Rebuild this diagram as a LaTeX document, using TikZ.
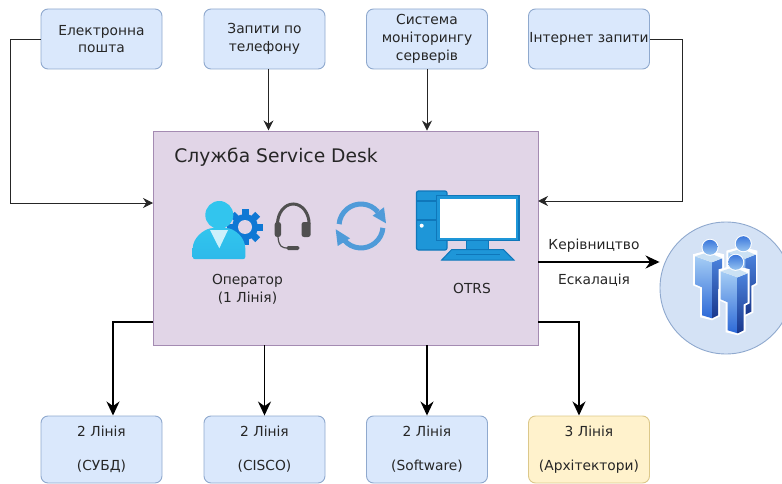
\documentclass[tikz,border=0pt]{standalone}
\usepackage{fontspec}
\setmainfont{DejaVu Sans}
\usetikzlibrary{arrows.meta}

\definecolor{boxblue}{HTML}{DAE8FC}
\definecolor{boxedge}{HTML}{8FA9CE}
\definecolor{boxyellow}{HTML}{FFF2CC}
\definecolor{yellowedge}{HTML}{DCC88A}
\definecolor{boxlilac}{HTML}{E1D5E7}
\definecolor{lilacedge}{HTML}{A48BB2}
\definecolor{inktext}{HTML}{262626}
\definecolor{gearblue}{HTML}{0F78D4}
\definecolor{headcyan}{HTML}{32C5EE}
\definecolor{refreshblue}{HTML}{4F9BD9}
\definecolor{pcfill}{HTML}{1E96D8}
\definecolor{pcedge}{HTML}{0F77BA}
\definecolor{teamfill}{HTML}{D4E2F5}
\definecolor{headsetgrey}{HTML}{505050}

\newcommand{\linetext}[2]{\raisebox{-3pt}{#1}\\[16pt]\raisebox{-3pt}{#2}}

\tikzset{
  figure/.pic={
    \fill[white] (-17,5) -- (-2,1) -- (14,5) -- (14,39) -- (10,41) -- (10,67) -- (2,71) -- (-10,68) -- (-10,39) -- (-17,36) -- cycle;
    \shade[top color={rgb,255:red,165;green,205;blue,245}, bottom color={rgb,255:red,45;green,105;blue,215}] (-15,7) -- (2,13) -- (2,69) -- (-8,66) -- (-8,38) -- (-15,35) -- cycle;
    \shade[top color={rgb,255:red,75;green,130;blue,220}, bottom color={rgb,255:red,25;green,55;blue,140}] (2,13) -- (12,9) -- (12,38) -- (8,40) -- (8,66) -- (2,69) -- cycle;
    \fill[white!70!refreshblue] (-15,7) -- (-2,3) -- (12,9) -- (2,13) -- cycle;
    \fill[white] (0,-2) circle (8.5pt);
    \shade[top color={rgb,255:red,60;green,120;blue,220}, bottom color={rgb,255:red,150;green,195;blue,240}] (0,-2) circle (7.5pt);
  }
}

\begin{document}
\begin{tikzpicture}
  [x=1pt, y=-1pt,
    every node/.style={text=inktext, font=\fontsize{13.8}{17.8}\selectfont, align=center},
    inbox/.style={draw=boxedge, fill=boxblue, rounded corners=7pt, line width=0.9pt, minimum width=121pt, minimum height=60pt, inner sep=0pt},
    linebox/.style={inbox, minimum height=67pt},
    thin arrow/.style={draw=black!85, line width=0.9pt, -{Stealth[length=10pt, width=10pt]}},
    thick arrow/.style={draw=black, line width=1.8pt, -{Stealth[length=14pt, width=13pt]}},
  ]
  \useasboundingbox (0,0) rectangle (782,484);

  \node[inbox] (mail) at (101.5,39) {Електронна\\пошта};
  \node[inbox] (phone) at (264.5,39) {Запити по\\телефону};
  \node[inbox] (monitor) at (427,39) {Система\\моніторингу\\серверів};
  \node[inbox] (web) at (589,39) {Інтернет запити};

  \node[draw=lilacedge, fill=boxlilac, line width=0.9pt, minimum width=385pt, minimum height=214pt, inner sep=0pt] (desk) at (345.5,238) {};
  \node[font=\fontsize{18.7}{20}\selectfont] (title) at (276,157) {Служба Service Desk};

  \node[linebox] (dba) at (101.5,449.5) {\linetext{2 Лінія}{(СУБД)}};
  \node[linebox] (cisco) at (264.5,449.5) {\linetext{2 Лінія}{(CISCO)}};
  \node[linebox] (soft) at (427,449.5) {\linetext{2 Лінія}{(Software)}};
  \node[linebox, fill=boxyellow, draw=yellowedge] (arch) at (589,449.5) {\linetext{3 Лінія}{(Архітектори)}};

  \node (operator) at (247.5,289) {Оператор\\(1 Лінія)};
  \node (otrs) at (472,288) {OTRS};

  \node[circle, draw=boxedge, fill=teamfill, line width=0.9pt, minimum size=132pt, inner sep=0pt] (team) at (726,288) {};
  \node (boss) at (594,245.5) {Керівництво};
  \node (escal) at (594,280.5) {Ескалація};

  \coordinate (deskA) at (153,203);
  \coordinate (deskB) at (538,201);
  \coordinate (deskC) at (538,262);
  \coordinate (deskD) at (153,322);
  \coordinate (deskE) at (538,322);
  \coordinate (dbaTop) at (113,415.5);
  \coordinate (archTop) at (579,415.5);

  \draw[thin arrow] (mail.west) -- ++(-30,0) |- (deskA);
  \draw[thin arrow] (phone.south) ++(4,0) -- ++(0,61);
  \draw[thin arrow] (monitor.south) -- (monitor.south |- desk.north);
  \draw[thin arrow] (web.east) -- ++(32,0) |- (deskB);
  \draw[thick arrow] (deskC) -- (team.west |- deskC);
  \draw[thick arrow] (deskD) -| (dbaTop);
  \draw[thick arrow] (cisco.north |- desk.south) -- (cisco.north);
  \draw[thick arrow] (soft.north |- desk.south) -- (soft.north);
  \draw[thick arrow] (deskE) -| (archTop);

  % operator
  \fill[gearblue] (245,227) circle (13pt);
  \foreach \a in {0,45,...,315}
    \fill[gearblue, shift={(245,227)}, rotate=\a] (-3.5,-18) rectangle (3.5,-9);
  \fill[boxlilac] (245,227) circle (7pt);
  \shade[top color=headcyan, bottom color=headcyan!85!gearblue, rounded corners=2pt]
    (192.7,259) -- (192.7,250) .. controls (193,238) and (203,230) .. (212,228) -- (227,228) .. controls (236,230) and (245,238) .. (245.3,250) -- (245.3,259) -- cycle;
  \fill[headcyan!25] (210,230) -- (228,230) -- (219.3,248.3) -- cycle;
  \fill[headcyan] (219.3,215) circle (14pt);

  % headset
  \draw[headsetgrey, line width=3pt] (277.5,224) arc[start angle=180, end angle=0, x radius=15.8pt, y radius=20pt];
  \fill[headsetgrey, rounded corners=2.5pt] (274.7,222) rectangle (281,237);
  \fill[headsetgrey, rounded corners=2.5pt] (301.5,222) rectangle (310.7,237);
  \draw[headsetgrey, line width=1.2pt] (278,237) .. controls (279,246) and (281,248) .. (288,248);
  \fill[headsetgrey, rounded corners=1.5pt] (286.7,246) rectangle (299.3,250);

  % refresh
  \draw[refreshblue, line width=5pt] (339.1,224.1) arc[start angle=175, end angle=40, radius=22pt];
  \fill[refreshblue] (372.7,215.7) -- (384,207.3) -- (386,223.3) -- cycle;
  \draw[refreshblue, line width=5pt] (382.9,227.9) arc[start angle=-5, end angle=-140, radius=22pt];
  \fill[refreshblue] (335.7,229.3) -- (350,238.3) -- (337.7,246) -- cycle;

  % computer
  \filldraw[fill=pcfill, draw=pcedge, line width=1.2pt, rounded corners=2pt] (416.5,191) rectangle (447,250);
  \draw[pcedge, line width=1.2pt] (416.5,201) -- (447,201) (416.5,220) -- (447,220);
  \fill[white] (421.7,225.7) circle (2pt);
  \filldraw[fill=pcfill, draw=pcedge, line width=1pt] (466.7,240) rectangle (488.3,249.5);
  \filldraw[fill=pcfill, draw=pcedge, line width=1pt] (451.7,249.5) -- (503.3,249.5) -- (514,260) -- (441.7,260) -- cycle;
  \draw[pcedge, line width=1pt] (456,254.5) -- (500,254.5);
  \fill[pcfill] (436.7,195.7) rectangle (519,240.7);
  \draw[pcedge, line width=1.2pt] (436.7,195.7) rectangle (519,240.7);
  \fill[white] (440,199) rectangle (515.5,237.7);

  % people
  \pic at (743.3,245.7) {figure};
  \pic at (710,249.3) {figure};
  \pic at (735.7,264.3) {figure};
\end{tikzpicture}
\end{document}
